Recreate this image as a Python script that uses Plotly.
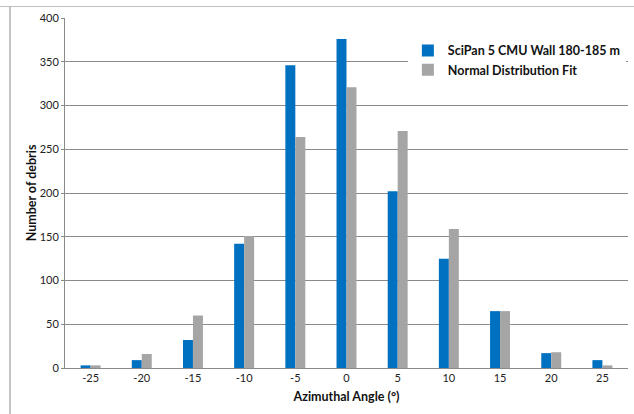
import plotly.graph_objects as go

angles = ["-25", "-20", "-15", "-10", "-5", "0", "5", "10", "15", "20", "25"]
scipan_counts = [3, 9, 32, 142, 346, 376, 202, 125, 65, 17, 9]
normal_fit = [3, 16, 60, 151, 264, 321, 271, 159, 65, 18, 3]
y_ticks = [0, 50, 100, 150, 200, 250, 300, 350, 400]

FONT = "Lato"
fig = go.Figure()
fig.add_trace(go.Bar(x=angles, y=scipan_counts, name="SciPan 5 CMU Wall 180-185 m",
                     marker=dict(color="#0070C0", line=dict(width=0))))
fig.add_trace(go.Bar(x=angles, y=normal_fit, name="Normal Distribution Fit",
                     marker=dict(color="#A5A5A5", line=dict(width=0))))

fig.update_layout(
    width=634, height=414,
    margin=dict(l=65, r=6, t=18, b=46),
    paper_bgcolor="white", plot_bgcolor="white",
    barmode="group", bargap=0.61, bargroupgap=0,
    font=dict(family=FONT, size=11, color="#222"),
    showlegend=True,
    legend=dict(x=0.609, y=0.949, xanchor="left", yanchor="top",
                bgcolor="white", borderwidth=0,
                font=dict(family=FONT, size=12.5, color="#111", weight="bold"),
                tracegroupgap=0, itemwidth=30),
    xaxis=dict(type="category", showgrid=False, showline=True, linecolor="#8a8a8a",
               linewidth=1, ticks="", tickfont=dict(size=11, color="#222"),
               title=dict(text="Azimuthal Angle (°)", standoff=9,
                          font=dict(size=12.5, color="#111", weight="bold"))),
    yaxis=dict(range=[0, 400], tickvals=y_ticks, showgrid=True, gridcolor="#8a8a8a",
               gridwidth=1, showline=True, linecolor="#8a8a8a", linewidth=1,
               ticks="outside", ticklen=3, tickcolor="#8a8a8a",
               tickfont=dict(size=11, color="#222"), zeroline=False,
               title=dict(text="Number of debris", standoff=0,
                          font=dict(size=12.5, color="#111", weight="bold"))),
    shapes=[
        dict(type="line", xref="paper", yref="paper", x0=-65/563, x1=634/563 - 65/563 + 0.01,
             y0=1 + 11.5/350, y1=1 + 11.5/350, line=dict(color="#c0c0c0", width=1)),
        dict(type="line", xref="paper", yref="paper", x0=-55/563, x1=-55/563,
             y0=1 + 11.5/350, y1=-46/350 - 0.01, line=dict(color="#b0b0b0", width=1.5)),
    ],
)

fig.write_html("out.html", config={"displayModeBar": False},
               post_script="document.body.style.margin='0';document.body.style.overflow='hidden';")
